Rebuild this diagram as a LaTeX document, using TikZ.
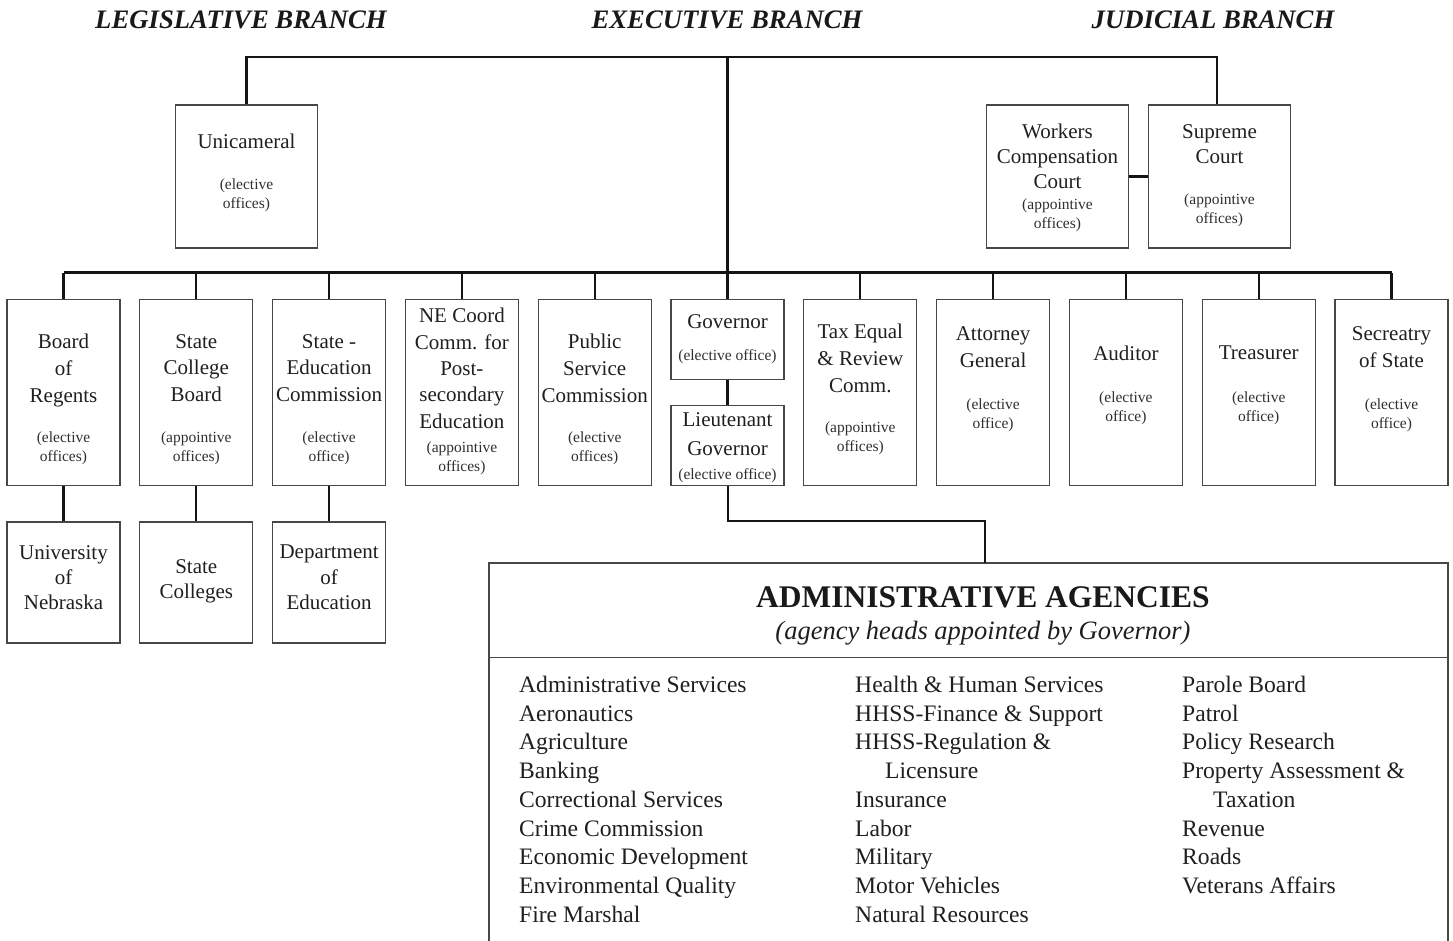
\documentclass[tikz,border=0pt]{standalone}
\usepackage{fontspec}
\setmainfont{Liberation Serif}
\begin{document}
\begin{tikzpicture}[x=1pt,y=-1pt]
\tikzset{
  box/.style={draw=black!72, line width=1.1pt, inner sep=0pt, minimum width=113pt},
  conn/.style={line width=2.3pt, draw=black!92},
  mt/.style={font=\fontsize{21}{26.7}\selectfont, align=center, anchor=north, inner sep=0pt, text=black!88},
  stx/.style={font=\fontsize{15.5}{18.5}\selectfont, align=center, anchor=north, inner sep=0pt, text=black!82},
  branch/.style={font=\bfseries\itshape\fontsize{26.7}{30}\selectfont, text=black!90, inner sep=0pt},
  lst/.style={font=\fontsize{23.6}{28.7}\selectfont, align=left, anchor=north west, inner sep=0pt, text=black!88},
}
\clip (0,0) rectangle (1453,940);
\useasboundingbox (0,0) rectangle (1453,940);

% branch titles
\node[branch] (leg) at (241,20) {LEGISLATIVE BRANCH};
\node[branch] (exe) at (727,20) {EXECUTIVE BRANCH};
\node[branch] (jud) at (1213,20) {JUDICIAL BRANCH};

% top boxes
\node[box, minimum width=142pt, minimum height=143pt] (unicam) at (246.5,176.5) {};
\node[box, minimum width=142pt, minimum height=143pt] (workers) at (1057.5,176.5) {};
\node[box, minimum width=142pt, minimum height=143pt] (supreme) at (1219.5,176.5) {};

\node[mt] (tunicam) at (246.5,134) {Unicameral};
\node[stx] (sunicam) at (246.5,179) {(elective\\offices)};
\node[mt, font=\fontsize{21}{25}\selectfont] (tworkers) at (1057.5,124) {Workers\\Compensation\\Court};
\node[stx, font=\fontsize{15.5}{18.3}\selectfont] (sworkers) at (1057.5,199) {(appointive\\offices)};
\node[mt, font=\fontsize{21}{25}\selectfont] (tsupreme) at (1219.5,124) {Supreme\\Court};
\node[stx, font=\fontsize{15.5}{18.3}\selectfont] (ssupreme) at (1219.5,194) {(appointive\\offices)};

% row boxes
\node[box, minimum height=186pt] (bor)  at (63.5,392.5) {};
\node[box, minimum height=186pt] (scb)  at (196.3,392.5) {};
\node[box, minimum height=186pt] (sec)  at (329.1,392.5) {};
\node[box, minimum height=186pt] (necc) at (461.9,392.5) {};
\node[box, minimum height=186pt] (psc)  at (594.7,392.5) {};
\node[box, minimum height=80pt]  (gov)  at (727.5,339.5) {};
\node[box, minimum height=80pt]  (ltgov) at (727.5,445.5) {};
\node[box, minimum height=186pt] (tax)  at (860.3,392.5) {};
\node[box, minimum height=186pt] (ag)   at (993.1,392.5) {};
\node[box, minimum height=186pt] (aud)  at (1125.9,392.5) {};
\node[box, minimum height=186pt] (tre)  at (1258.7,392.5) {};
\node[box, minimum height=186pt] (sos)  at (1391.5,392.5) {};

\node[mt] (tbor) at (63.5,334) {Board\\of\\Regents};
\node[stx] (sbor) at (63.5,432) {(elective\\offices)};
\node[mt] (tscb) at (196.3,334) {State\\College\\Board};
\node[stx] (sscb) at (196.3,432) {(appointive\\offices)};
\node[mt] (tsec) at (329.1,334) {State -\\Education\\Commission};
\node[stx] (ssec) at (329.1,432) {(elective\\office)};
\node[mt, font=\fontsize{21}{26.4}\selectfont] (tnecc) at (461.9,308) {NE Coord\\Comm. for\\Post-\\secondary\\Education};
\node[stx] (snecc) at (461.9,442) {(appointive\\offices)};
\node[mt] (tpsc) at (594.7,334) {Public\\Service\\Commission};
\node[stx] (spsc) at (594.7,432) {(elective\\offices)};
\node[mt] (tgov) at (727.5,314) {Governor};
\node[stx] (sgov) at (727.5,349) {(elective office)};
\node[mt, font=\fontsize{21}{29.3}\selectfont] (tltgov) at (727.5,412) {Lieutenant\\Governor};
\node[stx] (sltgov) at (727.5,468) {(elective office)};
\node[mt] (ttax) at (860.3,324) {Tax Equal\\\& Review\\Comm.};
\node[stx] (stax) at (860.3,422) {(appointive\\offices)};
\node[mt, font=\fontsize{21}{27}\selectfont] (tag) at (993.1,326) {Attorney\\General};
\node[stx] (sag) at (993.1,399) {(elective\\office)};
\node[mt] (taud) at (1125.9,346) {Auditor};
\node[stx] (saud) at (1125.9,392) {(elective\\office)};
\node[mt] (ttre) at (1258.7,346) {Treasurer};
\node[stx] (stre) at (1258.7,392) {(elective\\office)};
\node[mt, font=\fontsize{21}{27}\selectfont] (tsos) at (1391.5,326) {Secreatry\\of State};
\node[stx] (ssos) at (1391.5,399) {(elective\\office)};

% bottom row
\node[box, minimum height=121pt] (uni)  at (63.5,582.5) {};
\node[box, minimum height=121pt] (scol) at (196.3,582.5) {};
\node[box, minimum height=121pt] (doe)  at (329.1,582.5) {};
\node[mt, font=\fontsize{21}{25.3}\selectfont] (tuni) at (63.5,545) {University\\of\\Nebraska};
\node[mt, font=\fontsize{21}{25}\selectfont] (tscol) at (196.3,559) {State\\Colleges};
\node[mt, font=\fontsize{21}{25.3}\selectfont] (tdoe) at (329.1,545) {Department\\of\\Education};

% administrative agencies
\node[box, minimum width=959pt, minimum height=382pt] (admin) at (968.5,754) {};
\coordinate (divy) at (0,657.3);
\draw[draw=black!72, line width=1.1pt] (admin.west |- divy) -- (admin.east |- divy);
\node[font=\bfseries\fontsize{31.5}{36}\selectfont, text=black!90, inner sep=0pt] (admtitle) at (983,597) {ADMINISTRATIVE AGENCIES};
\node[font=\itshape\fontsize{26.5}{30}\selectfont, text=black!88, inner sep=0pt] (admsub) at (983,633) {(agency heads appointed by Governor)};

\node[lst] (col1) at (519,676) {Administrative Services\\Aeronautics\\Agriculture\\Banking\\Correctional Services\\Crime Commission\\Economic Development\\Environmental Quality\\Fire Marshal};
\node[lst] (col2) at (855,676) {Health \& Human Services\\HHSS-Finance \& Support\\HHSS-Regulation \&\\\hspace*{30pt}Licensure\\Insurance\\Labor\\Military\\Motor Vehicles\\Natural Resources};
\node[lst] (col3) at (1182,676) {Parole Board\\Patrol\\Policy Research\\Property Assessment \&\\\hspace*{31pt}Taxation\\Revenue\\Roads\\Veterans Affairs};

% connectors
\coordinate (top) at (727.5,57);
\coordinate (hub) at (727.5,272.5);
\coordinate (jtop) at (1217,57);
\draw[conn] (unicam.north) |- (top) -- (jtop) -- (jtop |- supreme.north);
\draw[conn] (top) -- (hub);
\draw[conn] (bor.north |- hub) -- (sos.north |- hub);
\foreach \n in {bor,scb,sec,necc,psc,gov,tax,ag,aud,tre,sos}
  \draw[conn] (\n.north) -- (\n.north |- hub);
\draw[conn] (workers.east) -- (supreme.west);
\draw[conn] (gov.south) -- (ltgov.north);
\draw[conn] (bor.south) -- (uni.north);
\draw[conn] (scb.south) -- (scol.north);
\draw[conn] (sec.south) -- (doe.north);
\coordinate (ltbend) at (985,520.5);
\coordinate (admin-in) at (985,563);
\draw[line width=2pt, draw=black!92] (ltgov.south) |- (ltbend) -- (admin-in);
\end{tikzpicture}
\end{document}
